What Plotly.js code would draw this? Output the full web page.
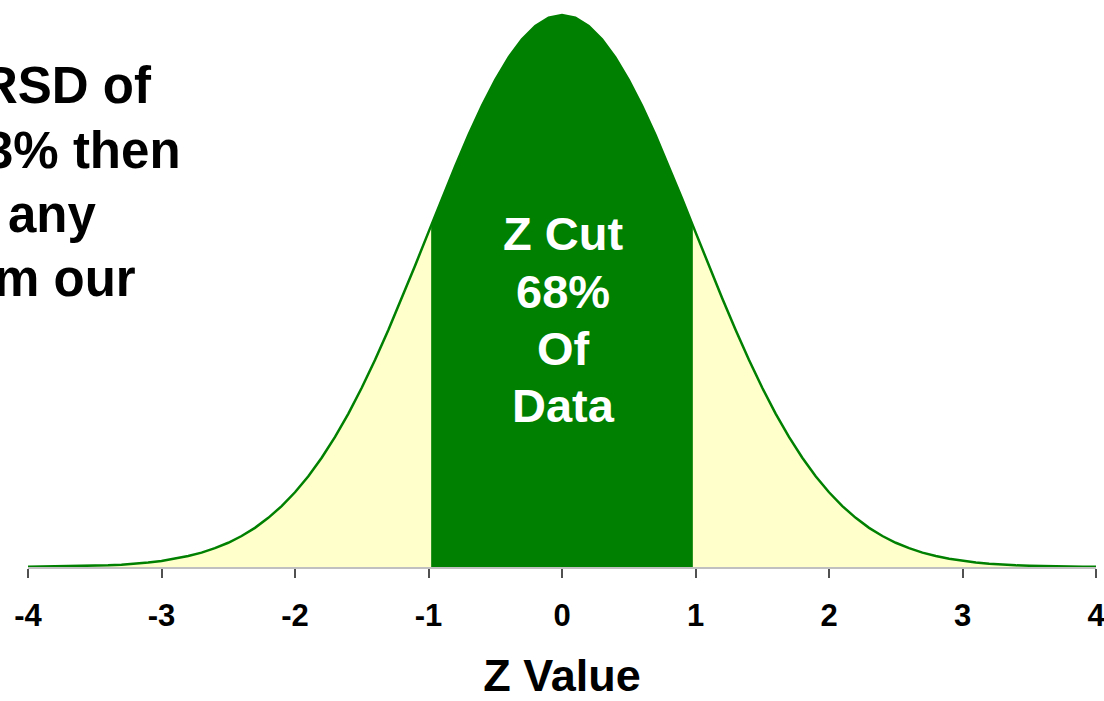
<!DOCTYPE html>
<html>
<head>
<meta charset="utf-8">
<script src="https://cdn.plot.ly/plotly-3.0.1.min.js"></script>
<style>html,body{margin:0;padding:0;background:#fff;}#chart{width:1104px;height:701px;}</style>
</head>
<body>
<div id="chart"></div>
<script>
// Z values along the curve
const zValues = [-4.0,-3.9,-3.8,-3.7,-3.6,-3.5,-3.4,-3.3,-3.2,-3.1,-3.0,-2.9,-2.8,-2.7,-2.6,-2.5,-2.4,-2.3,-2.2,-2.1,-2.0,-1.9,-1.8,-1.7,-1.6,-1.5,-1.4,-1.3,-1.2,-1.1,-1.0,-0.9,-0.8,-0.7,-0.6,-0.5,-0.4,-0.3,-0.2,-0.1,0.0,0.1,0.2,0.3,0.4,0.5,0.6,0.7,0.8,0.9,1.0,1.1,1.2,1.3,1.4,1.5,1.6,1.7,1.8,1.9,2.0,2.1,2.2,2.3,2.4,2.5,2.6,2.7,2.8,2.9,3.0,3.1,3.2,3.3,3.4,3.5,3.6,3.7,3.8,3.9,4.0];
// Curve heights
const densityValues = [0.0001,0.0002,0.0003,0.0004,0.0006,0.0009,0.0012,0.0017,0.0024,0.0033,0.0044,0.0060,0.0079,0.0104,0.0136,0.0175,0.0224,0.0283,0.0355,0.0440,0.0540,0.0656,0.0790,0.0940,0.1109,0.1295,0.1497,0.1714,0.1942,0.2179,0.2420,0.2661,0.2897,0.3123,0.3332,0.3521,0.3683,0.3814,0.3910,0.3970,0.3989,0.3970,0.3910,0.3814,0.3683,0.3521,0.3332,0.3123,0.2897,0.2661,0.2420,0.2179,0.1942,0.1714,0.1497,0.1295,0.1109,0.0940,0.0790,0.0656,0.0540,0.0440,0.0355,0.0283,0.0224,0.0175,0.0136,0.0104,0.0079,0.0060,0.0044,0.0033,0.0024,0.0017,0.0012,0.0009,0.0006,0.0004,0.0003,0.0002,0.0001];
// Central cut region (about ±1 z)
const zCut = [-0.98,-0.9,-0.8,-0.7,-0.6,-0.5,-0.4,-0.3,-0.2,-0.1,0.0,0.1,0.2,0.3,0.4,0.5,0.6,0.7,0.8,0.9,0.98];
const densityCut = [0.2468,0.2661,0.2897,0.3123,0.3332,0.3521,0.3683,0.3814,0.3910,0.3970,0.3989,0.3970,0.3910,0.3814,0.3683,0.3521,0.3332,0.3123,0.2897,0.2661,0.2468];
// Tick labels
const tickValues = [-4,-3,-2,-1,0,1,2,3,4];
const tickLabels = ['-4','-3','-2','-1','0','1','2','3','4'];
// Texts
const cutText = ['Z Cut','68%','Of','Data'];
const sideText = ['RSD of','3% then','any','m our'];

const W = 1104, H = 701;
const M = {l:28, r:8, t:10, b:134};
const pw = W - M.l - M.r, ph = H - M.t - M.b;
const px2x = px => (px - M.l) / pw;
const py2y = py => (H - M.b - py) / ph;

const FONT = 'Liberation Sans, Arial, Helvetica, sans-serif';

const traces = [
  {x: zValues, y: densityValues, type:'scatter', mode:'lines', fill:'tozeroy',
   fillcolor:'#FFFFCC', line:{color:'#008000', width:0}, hoverinfo:'skip', showlegend:false},
  {x: zCut, y: densityCut, type:'scatter', mode:'lines', fill:'tozeroy',
   fillcolor:'#008000', line:{color:'#008000', width:0}, hoverinfo:'skip', showlegend:false},
  {x: zValues, y: densityValues, type:'scatter', mode:'lines',
   line:{color:'#008000', width:2.5}, hoverinfo:'skip', showlegend:false}
];

const annotations = [];
const cutY = [234, 291, 348, 405];
cutText.forEach((t,i) => annotations.push({
  text: t, xref:'paper', yref:'paper', x: px2x(563), y: py2y(cutY[i]),
  xanchor:'center', yanchor:'middle', showarrow:false,
  font:{family:FONT, size:47, color:'#FFFFFF', weight:'bold'}
}));
const sideY = [85, 150, 214, 278];
const sideRight = [154, 183, 99, 138];
sideText.forEach((t,i) => annotations.push({
  text: t, xref:'paper', yref:'paper', x: px2x(sideRight[i]), y: py2y(sideY[i]),
  xanchor:'right', yanchor:'middle', showarrow:false,
  font:{family:FONT, size:51, color:'#000000', weight:'bold'}
}));

const layout = {
  width: W, height: H,
  margin: M,
  paper_bgcolor:'#FFFFFF', plot_bgcolor:'#FFFFFF',
  showlegend:false,
  xaxis: {
    range:[-4,4], tickmode:'array', tickvals: tickValues, ticktext: tickLabels,
    showgrid:false, zeroline:false, showline:true, linecolor:'#C0C0C0', linewidth:2,
    ticks:'outside', ticklen:9, tickwidth:2, tickcolor:'#505050',
    tickfont:{family:FONT, size:31, color:'#000000', weight:'bold'},
    ticklabelstandoff: 11, ticklabeloverflow:'allow',
    title:{text:'Z Value', font:{family:FONT, size:45, color:'#000000', weight:'bold'}, standoff:42},
    automargin:false, fixedrange:true
  },
  yaxis: {range:[0,0.4025], visible:false, showgrid:false, zeroline:false, fixedrange:true},
  annotations: annotations
};

Plotly.newPlot('chart', traces, layout, {displayModeBar:false, staticPlot:true});
</script>
</body>
</html>
